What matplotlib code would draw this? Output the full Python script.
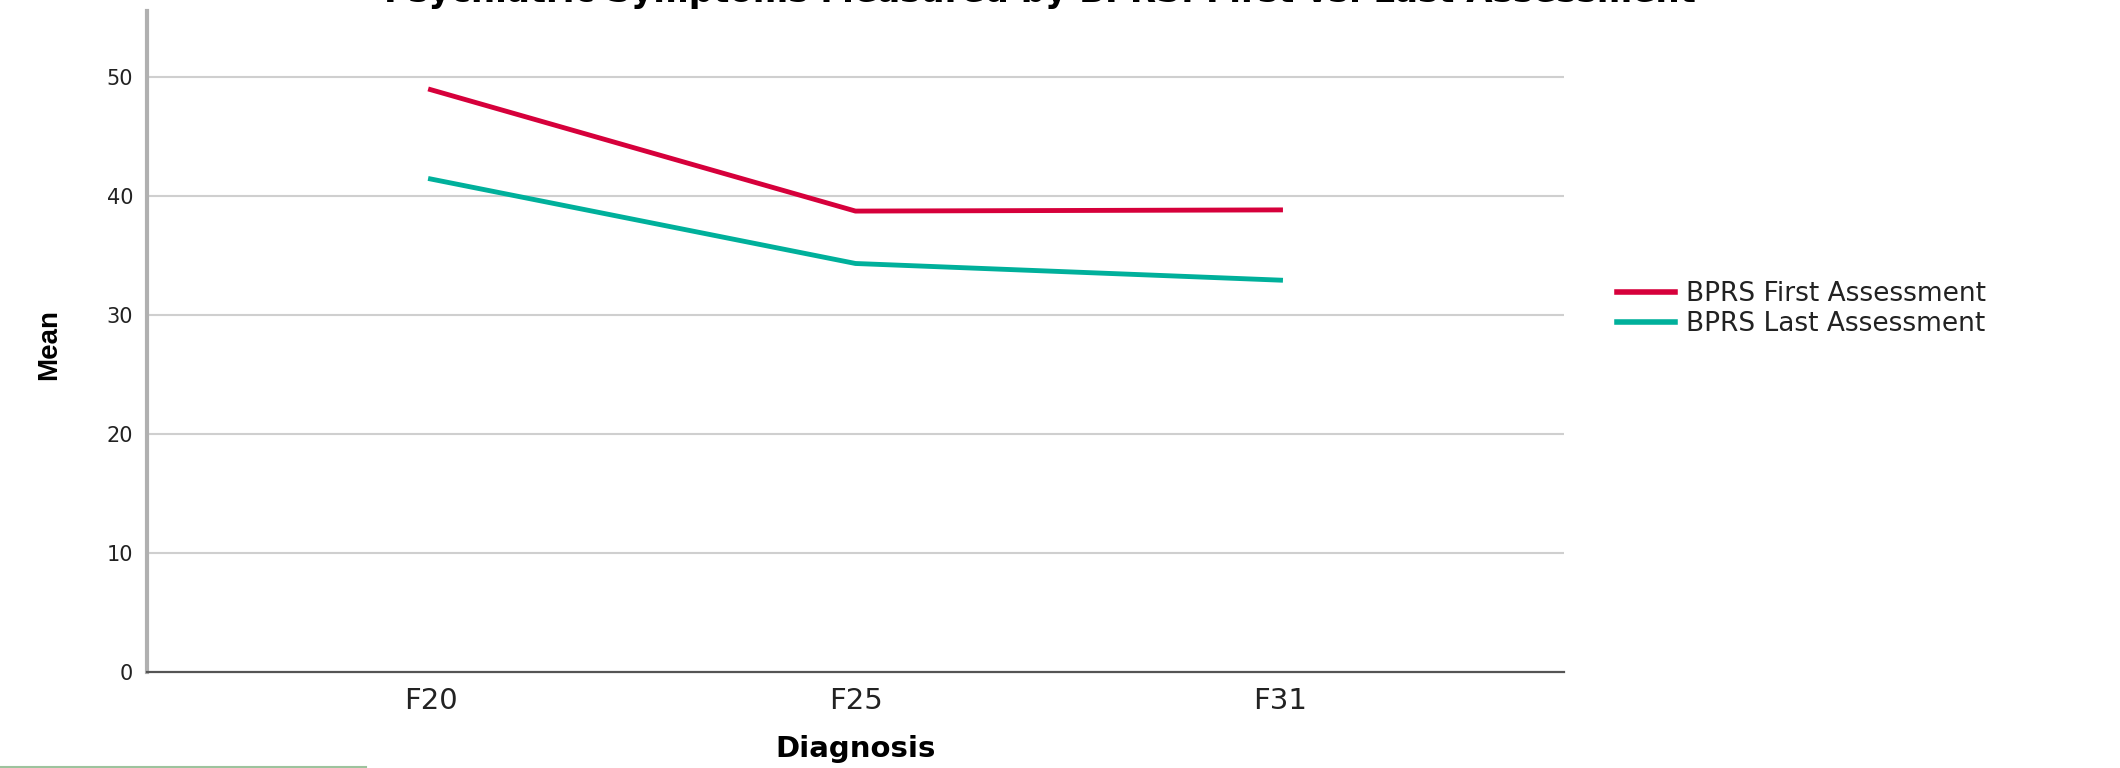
import matplotlib
matplotlib.use("Agg")
import matplotlib.pyplot as plt
from matplotlib.lines import Line2D
from matplotlib import font_manager

categories = ["F20", "F25", "F31"]
first_assessment = [48.9, 38.7, 38.8]
last_assessment = [41.4, 34.3, 32.9]
series_labels = ["BPRS First Assessment", "BPRS Last Assessment"]
y_ticks = [0, 10, 20, 30, 40, 50]
title = "Psychiatric Symptoms Measured by BPRS: First vs. Last Assessment"

W, H = 2120, 768
fig = plt.figure(figsize=(W / 100, H / 100), dpi=100)
plt.rcParams['font.family'] = ['DejaVu Sans']

# narrow bold font for the y label if available
narrow = "Liberation Sans"
try:
    fp = font_manager.findfont(font_manager.FontProperties(family="Liberation Sans Narrow", weight="bold"),
                               fallback_to_default=False)
    if "Narrow" in fp:
        narrow = "Liberation Sans Narrow"
except Exception:
    pass

left, right, top, bottom = 147, 1564, 11, 672
ax = fig.add_axes([left / W, 1 - bottom / H, (right - left) / W, (bottom - top) / H])

x = list(range(len(categories)))
ax.plot(x, first_assessment, color="#d6003b", lw=3.5, label=series_labels[0])
ax.plot(x, last_assessment, color="#00b09b", lw=3.5, label=series_labels[1])

ax.set_xlim(-0.667, 2.667)
ax.set_ylim(0, 55.5)
ax.set_xticks(x)
ax.set_xticklabels(categories, fontsize=21, color="#222222")
ax.set_yticks(y_ticks)
ax.set_yticklabels([str(v) for v in y_ticks], fontsize=15, color="#222222")
ax.tick_params(axis='y', length=0, pad=10)
ax.tick_params(axis='x', length=0, pad=11)

for v in y_ticks[1:]:
    ax.axhline(v, color="#cfcfcf", lw=1.5, zorder=0)

for s in ["top", "right"]:
    ax.spines[s].set_visible(False)
ax.spines["left"].set_color("#b0b0b0")
ax.spines["left"].set_linewidth(3)
ax.spines["bottom"].set_color("#555555")
ax.spines["bottom"].set_linewidth(1.6)

fig.text(49 / W, 1 - 345 / H, "Mean", rotation=90, ha="center", va="center",
         fontsize=25 if narrow != "Liberation Sans" else 20, fontweight="bold", family=[narrow, "DejaVu Sans"])
fig.text(856 / W, 1 - 757 / H, "Diagnosis", ha="center", va="baseline",
         fontsize=21, fontweight="bold")
fig.text(1040 / W, 1 - 2 / H, title, ha="center", va="baseline",
         fontsize=24.5, fontweight="bold")

leg = fig.legend(loc="center left", bbox_to_anchor=(1617 / W, 1 - 309 / H),
                 frameon=False, fontsize=19, handlelength=2.2, handletextpad=0.4,
                 labelspacing=0.15, borderpad=0, borderaxespad=0)
for t in leg.get_texts():
    t.set_color("#222222")
for h in leg.get_lines():
    h.set_linewidth(4)

fig.add_artist(Line2D([0, 366 / W], [1 - 766.5 / H, 1 - 766.5 / H],
                      transform=fig.transFigure, color="#9dc39d", lw=1.5))

fig.savefig("out.png", dpi=100)
